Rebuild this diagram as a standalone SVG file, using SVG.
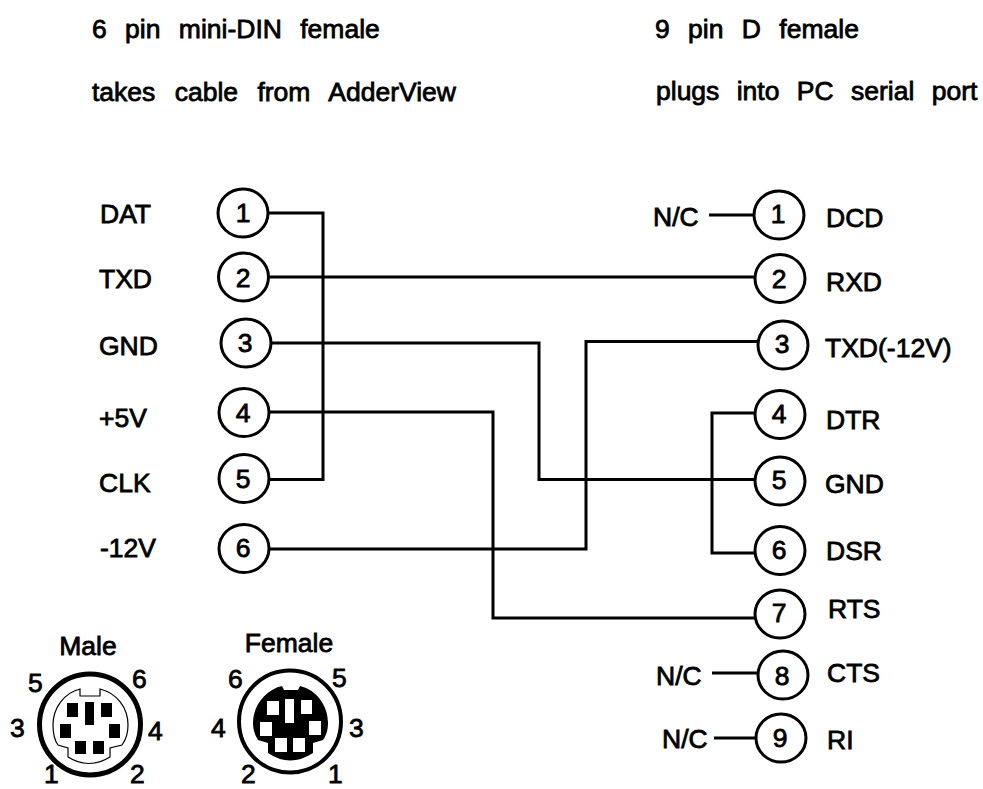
<svg xmlns="http://www.w3.org/2000/svg" width="983" height="789" viewBox="0 0 983 789">
<style>
text{font-family:"Liberation Sans",Arial,sans-serif;font-size:26.5px;fill:#000;stroke:#000;stroke-width:.8}
.m{text-anchor:middle}
.pin{fill:#fff;stroke:#000;stroke-width:3}
.w{fill:none;stroke:#000;stroke-width:3}
.b{fill:#000;stroke:none}
.wh{fill:#fff;stroke:none}
</style>
<rect width="983" height="789" fill="#fff"/>
<g id="titles">
<text word-spacing="11" x="92" y="38">6 pin mini-DIN female</text>
<text word-spacing="12" x="92" y="101">takes cable from AdderView</text>
<text word-spacing="11" x="655" y="38">9 pin D female</text>
<text word-spacing="10" x="656" y="100">plugs into PC serial port</text>
</g>
<g id="connectors" class="w">
<path d="M269 213H323V479.500H269"/>
<path d="M269 277H755"/>
<path d="M272 343H539V479.500H755"/>
<path d="M269 412H493V618H755"/>
<path d="M269 549H586V341.500H758"/>
<path d="M755 413H712V553H755"/>
<path d="M709 215H754"/>
<path d="M712 673H758"/>
<path d="M714 738H755"/>
</g>
<g id="L1"><ellipse class="pin" cx="243" cy="213" rx="25" ry="24"/><text class="m" x="243" y="222">1</text><text x="100" y="223">DAT</text></g>
<g id="L2"><ellipse class="pin" cx="243.500" cy="277" rx="25" ry="24"/><text class="m" x="243" y="287">2</text><text x="99" y="288">TXD</text></g>
<g id="L3"><ellipse class="pin" cx="246" cy="343" rx="25" ry="24"/><text class="m" x="245" y="352">3</text><text x="99" y="355">GND</text></g>
<g id="L4"><ellipse class="pin" cx="244" cy="412.500" rx="25" ry="24"/><text class="m" x="243" y="422">4</text><text x="99" y="427">+5V</text></g>
<g id="L5"><ellipse class="pin" cx="244" cy="478.500" rx="25" ry="24"/><text class="m" x="243" y="488">5</text><text x="99" y="492">CLK</text></g>
<g id="L6"><ellipse class="pin" cx="244" cy="548.500" rx="25" ry="24"/><text class="m" x="243" y="557">6</text><text x="100" y="557">-12V</text></g>
<g id="R1"><ellipse class="pin" cx="779" cy="215" rx="25" ry="24"/><text class="m" x="778" y="223">1</text><text x="653" y="226">N/C</text><text x="826" y="227">DCD</text></g>
<g id="R2"><ellipse class="pin" cx="780" cy="278.500" rx="25" ry="24"/><text class="m" x="779" y="288">2</text><text x="826" y="291">RXD</text></g>
<g id="R3"><ellipse class="pin" cx="783" cy="345" rx="25" ry="24"/><text class="m" x="782" y="353">3</text><text x="825" y="357">TXD(-12V)</text></g>
<g id="R4"><ellipse class="pin" cx="780" cy="414.500" rx="25" ry="24"/><text class="m" x="779" y="423">4</text><text x="826" y="429">DTR</text></g>
<g id="R5"><ellipse class="pin" cx="780" cy="481" rx="25" ry="24"/><text class="m" x="779" y="489">5</text><text x="825" y="493">GND</text></g>
<g id="R6"><ellipse class="pin" cx="780" cy="550.500" rx="25" ry="24"/><text class="m" x="779" y="559">6</text><text x="826" y="560">DSR</text></g>
<g id="R7"><ellipse class="pin" cx="780" cy="614" rx="25" ry="24"/><text class="m" x="779" y="622">7</text><text x="828" y="618">RTS</text></g>
<g id="R8"><ellipse class="pin" cx="783" cy="675" rx="25" ry="24"/><text class="m" x="782" y="685">8</text><text x="656" y="685">N/C</text><text x="827" y="682">CTS</text></g>
<g id="R9"><ellipse class="pin" cx="781" cy="738" rx="25" ry="24"/><text class="m" x="780" y="747">9</text><text x="662" y="748">N/C</text><text x="827" y="749">RI</text></g>
<g id="male">
<text class="m" x="88" y="655">Male</text>
<text x="28" y="692">5</text><text x="132" y="688">6</text><text x="10" y="737">3</text><text x="148" y="740">4</text><text x="44" y="783">1</text><text x="130" y="783">2</text>
<circle cx="90" cy="724.500" r="50.500" fill="none" stroke="#000" stroke-width="5"/>
<path d="M80 689V696H100V689C117 693 128 708 128 725C128 735 125 741 122 745L110 748V757Q89 770 68 757V748L58 745C55 741 53 733 53 725C53 708 64 693 80 689Z" fill="none" stroke="#000" stroke-width="1.2"/>
<rect class="b" x="67" y="703" width="11" height="14"/><rect class="b" x="85" y="702" width="9" height="23"/><rect class="b" x="101" y="703" width="11" height="14"/>
<rect class="b" x="60" y="724" width="11" height="14"/><rect class="b" x="109" y="724" width="11" height="14"/>
<rect class="b" x="75" y="741" width="11" height="13"/><rect class="b" x="93" y="741" width="11" height="13"/>
</g>
<g id="female">
<text class="m" x="289" y="652">Female</text>
<text x="228" y="688">6</text><text x="332" y="687">5</text><text x="211" y="737">4</text><text x="349" y="737">3</text><text x="241" y="783">2</text><text x="328" y="783">1</text>
<circle cx="290" cy="721.500" r="51" fill="none" stroke="#000" stroke-width="4"/>
<path d="M282 686L284 690H298L300 686C317 690 328 706 328 723C328 730 326 736 323 740L313 743V753Q290 768 268 753V743L258 740C255 735 253 730 253 723C253 706 265 690 282 686Z" class="b"/>
<rect class="wh" x="267" y="701" width="12" height="14"/><rect class="wh" x="285" y="699" width="9" height="24"/><rect class="wh" x="301" y="700" width="11" height="14"/>
<rect class="wh" x="260" y="722" width="12" height="14"/><rect class="wh" x="309" y="721" width="12" height="14"/>
<rect class="wh" x="275" y="738" width="12" height="14"/><rect class="wh" x="293" y="738" width="12" height="14"/>
</g>
</svg>
